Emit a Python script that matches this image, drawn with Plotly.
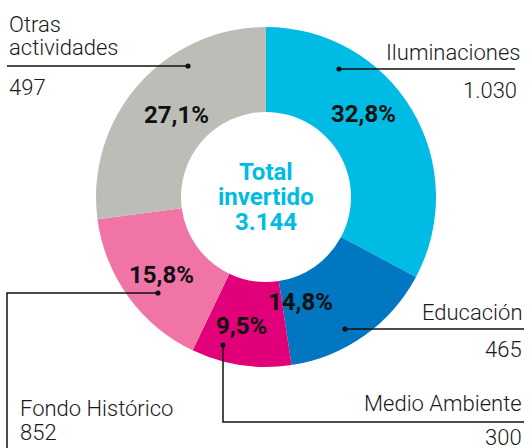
import plotly.graph_objects as go

# data
segments = ["Iluminaciones", "Educación", "Medio Ambiente", "Fondo Histórico (slice)", "Otras actividades (slice)"]
shares = [32.8, 14.8, 9.5, 15.8, 27.1]
share_labels = ["32,8%", "14,8%", "9,5%", "15,8%", "27,1%"]
colors = ["#00BCE4", "#0077C0", "#E2007A", "#F075A6", "#BDBDB8"]
callout_names = ["Iluminaciones", "Educación", "Medio Ambiente", "Fondo Histórico", "Otras", "actividades"]
callout_values = ["1.030", "465", "300", "852", "497"]
total_lines = ["Total", "invertido", "3.144"]

W, H = 530, 448
def px(x):
    return x / W
def py(y):
    return 1 - y / H

cx, cy, R = 266, 197, 170

fig = go.Figure(go.Pie(
    labels=segments, values=shares, sort=False, direction="clockwise", rotation=0,
    hole=0.5, marker=dict(colors=colors, line=dict(width=0)), textinfo="none",
    hoverinfo="skip", showlegend=False,
    domain=dict(x=[px(cx - R), px(cx + R)], y=[py(cy + R), py(cy - R)]),
))

FONT = "Roboto"
ann = []
# percent labels
pct_pos = [(363, 114), (300, 302), (241, 326), (161, 275), (176, 115)]
for (x, y), t in zip(pct_pos, share_labels):
    ann.append(dict(x=px(x), y=py(y), text=t, showarrow=False, xanchor="center", yanchor="middle",
                    font=dict(family=FONT, size=24, color="#111111", weight=700)))
# center total
for y, t in zip([172, 197, 222], total_lines):
    ann.append(dict(x=px(cx), y=py(y), text=t, showarrow=False, xanchor="center", yanchor="middle",
                    height=24, valign="middle",
                    font=dict(family=FONT, size=24, color="#00BCE4", weight=700)))

lab_font = dict(family="Roboto Light, Roboto", size=22, color="#1a1a1a", weight=300)
# callout names / values
name_pos = [(522, 52, "right"), (524, 312, "right"), (524, 403, "right"), (18, 408, "left"),
            (7, 24, "left"), (7, 47, "left")]
val_pos = [(519, 90, "right"), (524, 349, "right"), (524, 437, "right"), (18, 432, "left"), (7, 87, "left")]
for (x, y, a), t in zip(name_pos, callout_names):
    ann.append(dict(x=px(x), y=py(y), text=t, showarrow=False, xanchor=a, yanchor="middle", align=a,
                    height=22, font=lab_font))
for (x, y, a), t in zip(val_pos, callout_values):
    ann.append(dict(x=px(x), y=py(y), text=t, showarrow=False, xanchor=a, yanchor="middle", align=a,
                    height=22, font=lab_font))

shapes = []
line = dict(color="#111111", width=1.5)
paths = [
    [(339, 69), (515, 69)],
    [(345, 329), (524, 329)],
    [(223, 345), (223, 422), (524, 422)],
    [(158, 293), (7, 293), (7, 448)],
    [(188, 66), (7, 66)],
]
for p in paths:
    d = "M " + " L ".join(f"{px(x)},{py(y)}" for x, y in p)
    shapes.append(dict(type="path", path=d, xref="paper", yref="paper", line=line))
    x0, y0 = p[0]
    r = 2.6
    shapes.append(dict(type="circle", xref="paper", yref="paper",
                       x0=px(x0 - r), x1=px(x0 + r), y0=py(y0 + r), y1=py(y0 - r),
                       fillcolor="#111111", line=dict(width=0)))

fig.update_layout(width=W, height=H, margin=dict(l=0, r=0, t=0, b=0),
                  paper_bgcolor="white", plot_bgcolor="white",
                  annotations=ann, shapes=shapes)
fig.write_html("out.html", config={"displayModeBar": False},
               post_script="document.body.style.margin='0';document.body.style.overflow='hidden';")
